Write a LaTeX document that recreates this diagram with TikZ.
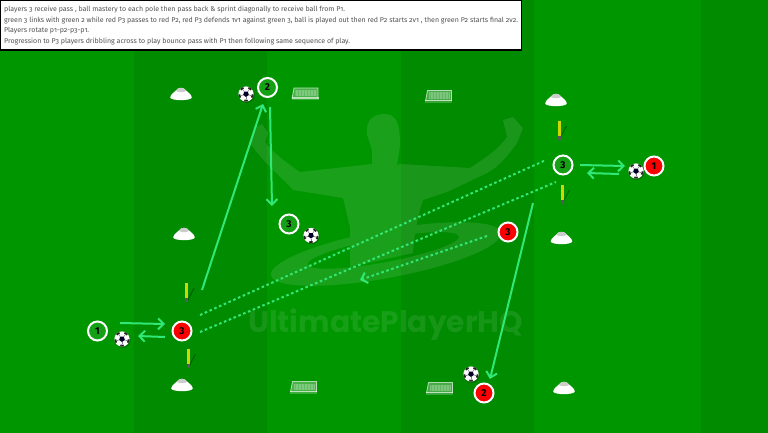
\documentclass[tikz,border=0pt]{standalone}
\usepackage{fontspec}
\setmainfont{Fira Sans}[Numbers=OldStyle]
\newfontfamily\markfont{Poppins}
\newfontfamily\numfont{Fira Sans}[Numbers=Lining]
\usetikzlibrary{arrows.meta,calc}
\definecolor{pitchA}{RGB}{0,150,0}
\definecolor{pitchB}{RGB}{0,139,0}
\definecolor{runline}{RGB}{48,232,120}
\definecolor{redshirt}{RGB}{250,0,0}
\definecolor{greenshirt}{RGB}{22,160,22}
\definecolor{poleyellow}{RGB}{205,215,0}
\tikzset{
  x=1pt,y=-1pt,
  player/.style={circle,draw=white,line width=2pt,minimum size=19pt,inner sep=0pt,font=\numfont\fontsize{10}{10}\selectfont\bfseries,text=black},
  greenplayer/.style={player,fill=greenshirt},
  redplayer/.style={player,fill=redshirt},
  passline/.style={draw=runline,line width=2pt},
  passarrow/.style={passline,-{Straight Barb[length=5.5pt,width=11pt,line width=2pt]}},
  dottedpass/.style={draw=runline,line width=2pt,dash pattern=on 2.6pt off 2.6pt},
  ball/.pic={
    \fill[black,opacity=.22] (0.7,0.9) circle (8);
    \fill[white] (0,0) circle (7.6);
    \fill[black!85!blue] (90:3)--(162:3)--(234:3)--(306:3)--(18:3)--cycle;
    \foreach \a in {90,162,234,306,18}{
      \draw[black!50,line width=.6pt] (\a:3)--(\a:5.4);
      \begin{scope}
        \clip (0,0) circle (7.6);
        \fill[black!85] (\a-16:5.9)--(\a+16:5.9)--(\a+14:8)--(\a-14:8)--cycle;
      \end{scope}
    }
  },
  cone/.pic={
    \begin{scope}[scale=1.08]
    \fill[white] (-10,4) .. controls (-9.5,1) and (-6,-1) .. (-4.5,-2.5) .. controls (-3,-5.5) and (3,-5.5) .. (4.5,-2.5)
      .. controls (6,-1) and (9.5,1) .. (10,4) .. controls (10,7.5) and (-10,7.5) .. (-10,4) -- cycle;
    \fill[black!20] (-4.8,-2) .. controls (-3,-5.8) and (3,-5.8) .. (4.8,-2) .. controls (2,-.3) and (-2,-.3) .. (-4.8,-2) -- cycle;
    \end{scope}
  },
  goal/.pic={
    \fill[white,opacity=.28] (-11,-6.5) -- (13,-6.5) -- (13,4) -- (-13,4) -- cycle;
    \draw[white,opacity=.65,line width=.8pt] (-13,4) -- (-11,-6.5) -- (13,-6.5) -- (13,4);
    \fill[white,opacity=.15] (-10,-4.5) rectangle (11.5,2);
    \draw[white,opacity=.18,line width=.3pt,xstep=1.5,ystep=1.5] (-10,-4.5) grid (11.5,2);
    \fill[white,opacity=.65] (-13.5,2.6) rectangle (13.5,4.2);
    \fill[white,opacity=.22] (-13.5,4.2) rectangle (13.5,6);
  },
  pole/.pic={
    \draw[black,opacity=.35,line width=.9pt] (0,19)--(7.5,5);
    \fill[poleyellow] (-1.5,0) rectangle (1.5,15);
    \fill[black!65] (-1.5,15) rectangle (1.5,19);
  }
}
\begin{document}
\begin{tikzpicture}
\useasboundingbox (0,0) rectangle (768,433);
% Pitch stripes
\fill[pitchA] (0,0) rectangle (768,433);
\fill[pitchB] (134,0) rectangle (267,433);
\fill[pitchB] (401,0) rectangle (534,433);
\fill[pitchB] (701,0) rectangle (768,433);
% Faint silhouette over the pitch
\begin{scope}[transparency group,opacity=.1]
  \fill[white] (367,135) .. controls (365,118) and (376,114) .. (384,114) .. controls (396,114) and (400,122) .. (400,146)
    -- (397,165) -- (400,164) -- (470,168)
    .. controls (482,160) and (498,150) .. (507,137) -- (503,120) -- (513,117) -- (523,128) -- (517,143)
    .. controls (505,160) and (495,170) .. (483,175) -- (447,192) -- (423,200)
    .. controls (418,215) and (414,235) .. (413,253) -- (350,267) -- (350,227) -- (343,198) -- (293,190)
    .. controls (280,175) and (265,165) .. (250,143) -- (254,128) -- (262,124) -- (268,133) -- (265,142)
    .. controls (275,155) and (290,165) .. (300,172) -- (372,164) -- (372,150) -- cycle;
  \fill[white,even odd rule,shift={(386,254)},rotate=10.5] (0,0) ellipse [x radius=117,y radius=24]
    (-2,-4) ellipse [x radius=77,y radius=12];
\end{scope}
\node[white,opacity=.09,font=\markfont\fontsize{29.7}{30}\selectfont\bfseries,anchor=base west,inner sep=0pt] (brand) at (248,332) {UltimatePlayerHQ};
% Instructions panel
\node[draw=black,line width=1.2pt,fill=white,anchor=north west,minimum width=521pt,minimum height=49.5pt,inner sep=0pt,outer sep=0pt] (panel) at (.6,.6) {};
\foreach \yy/\txt in {
  10/{players 3 receive pass , ball mastery to each pole then pass back \& sprint diagonally to receive ball from P1.},
  20.4/{green 3 links with green 2 while red P3 passes to red P2, red P3 defends 1v1 against green 3, ball is played out then red P2 starts 2v1 , then green P2 starts final 2v2.},
  30.8/{Players rotate p1-p2-p3-p1.},
  41.2/{Progression to P3 players dribbling across to play bounce pass with P1 then following same sequence of play.}}
  \node[anchor=west,inner sep=0pt,text=black!68,font=\fontsize{7.02}{8}\selectfont] at (4,\yy) {\txt};
% Markers, poles and goals
\pic at (181,93) {cone}; \pic at (184,233) {cone}; \pic at (182,384) {cone};
\pic at (556,99) {cone}; \pic at (561.5,237) {cone}; \pic at (564,387) {cone};
\pic at (305,94.5) {goal}; \pic at (438.5,97) {goal}; \pic at (303.5,388) {goal}; \pic at (439.5,389) {goal};
\pic at (186.7,283) {pole}; \pic at (188,349) {pole}; \pic at (559,121) {pole}; \pic at (562,185) {pole};
% Players
\node[greenplayer] (gA) at (97.5,331) {1};
\node[redplayer] (rC) at (182,331) {3};
\node[greenplayer] (gB) at (267.5,87.5) {2};
\node[greenplayer] (gC) at (289,224) {3};
\node[redplayer] (rD) at (508,232) {3};
\node[redplayer] (rB) at (484,393) {2};
\node[greenplayer] (gD) at (563,165) {3};
\node[redplayer] (rA) at (654,166) {1};
% Balls
\pic at (122,339) {ball}; \pic at (246,94) {ball}; \pic at (311,235.5) {ball};
\pic at (471,374) {ball}; \pic at (636,171) {ball};
% Pass and run end points
\coordinate (a1) at (120,323); \coordinate (a2) at (165,324);
\coordinate (b1) at (165,337); \coordinate (b2) at (138,336);
\coordinate (c1) at (202,290); \coordinate (c2) at (263,104);
\coordinate (d1) at (270,107); \coordinate (d2) at (272,206);
\coordinate (e1) at (533,203); \coordinate (e2) at (490,379);
\coordinate (f1) at (580,165); \coordinate (f2) at (625,166);
\coordinate (g1) at (619,174); \coordinate (g2) at (587,173);
\coordinate (h1) at (200,315); \coordinate (h2) at (546,160);
\coordinate (i1) at (200,332); \coordinate (i2) at (556,182);
\coordinate (j1) at (487,236); \coordinate (j2) at (360,280);
\draw[passarrow] (a1)--(a2);
\draw[passarrow] (b1)--(b2);
\draw[passarrow] (c1)--(c2);
\draw[passarrow] (d1)--(d2);
\draw[passarrow] (e1)--(e2);
\draw[passarrow] (f1)--(f2);
\draw[passarrow] (g1)--(g2);
\draw[dottedpass] (h1)--(h2);
\draw[dottedpass] (i1)--(i2);
\draw[dottedpass] (j1)--(j2);
\draw[passline,-{Straight Barb[length=5.5pt,width=11pt,line width=2pt]}] ($(j1)!.97!(j2)$)--(j2);
\end{tikzpicture}
\end{document}
